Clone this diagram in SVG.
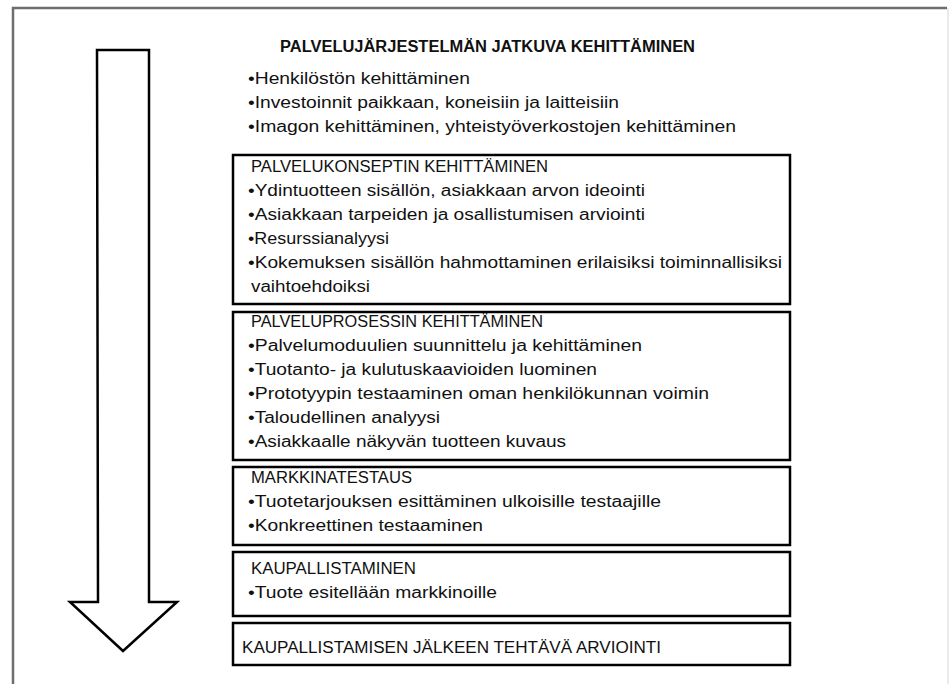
<svg xmlns="http://www.w3.org/2000/svg" width="949" height="684" viewBox="0 0 949 684">
<style>
.t{font-family:"Liberation Sans",Arial,sans-serif;font-size:16px;fill:#111}
.b{font-weight:bold}
.box{fill:#fff;stroke:#000;stroke-width:2.5}
</style>
<rect x="0" y="0" width="949" height="684" fill="#fff"/>
<g id="frame">
<path d="M13,684 V8 H947" fill="none" stroke="#6e6e6e" stroke-width="2.5"/>
<path d="M948,8 V684" fill="none" stroke="#e4e4e4" stroke-width="1.5"/>
</g>
<g id="arrow">
<polygon points="97,50 149,50 149,602 177,602 123,651 70,602 98,602" fill="#fff" stroke="#000" stroke-width="2.5" stroke-linejoin="miter"/>
</g>
<g id="header">
<text class="t b" x="280" y="52" textLength="415" lengthAdjust="spacingAndGlyphs">PALVELUJÄRJESTELMÄN JATKUVA KEHITTÄMINEN</text>
<text class="t" x="248" y="84" textLength="222" lengthAdjust="spacingAndGlyphs">•Henkilöstön kehittäminen</text>
<text class="t" x="248" y="108" textLength="371" lengthAdjust="spacingAndGlyphs">•Investoinnit paikkaan, koneisiin ja laitteisiin</text>
<text class="t" x="248" y="132" textLength="488" lengthAdjust="spacingAndGlyphs">•Imagon kehittäminen, yhteistyöverkostojen kehittäminen</text>
</g>
<g id="box1">
<rect class="box" x="233" y="155" width="557" height="149"/>
<text class="t" x="251" y="172" textLength="297" lengthAdjust="spacingAndGlyphs">PALVELUKONSEPTIN KEHITTÄMINEN</text>
<text class="t" x="248" y="196" textLength="397" lengthAdjust="spacingAndGlyphs">•Ydintuotteen sisällön, asiakkaan arvon ideointi</text>
<text class="t" x="248" y="220" textLength="397" lengthAdjust="spacingAndGlyphs">•Asiakkaan tarpeiden ja osallistumisen arviointi</text>
<text class="t" x="248" y="244" textLength="141" lengthAdjust="spacingAndGlyphs">•Resurssianalyysi</text>
<text class="t" x="248" y="268" textLength="534" lengthAdjust="spacingAndGlyphs">•Kokemuksen sisällön hahmottaminen erilaisiksi toiminnallisiksi</text>
<text class="t" x="251" y="292" textLength="119" lengthAdjust="spacingAndGlyphs">vaihtoehdoiksi</text>
</g>
<g id="box2">
<rect class="box" x="233" y="312" width="557" height="148"/>
<text class="t" x="251" y="327" textLength="292" lengthAdjust="spacingAndGlyphs">PALVELUPROSESSIN KEHITTÄMINEN</text>
<text class="t" x="248" y="351" textLength="394" lengthAdjust="spacingAndGlyphs">•Palvelumoduulien suunnittelu ja kehittäminen</text>
<text class="t" x="248" y="375" textLength="349" lengthAdjust="spacingAndGlyphs">•Tuotanto- ja kulutuskaavioiden luominen</text>
<text class="t" x="248" y="399" textLength="461" lengthAdjust="spacingAndGlyphs">•Prototyypin testaaminen oman henkilökunnan voimin</text>
<text class="t" x="248" y="423" textLength="192" lengthAdjust="spacingAndGlyphs">•Taloudellinen analyysi</text>
<text class="t" x="248" y="447" textLength="318" lengthAdjust="spacingAndGlyphs">•Asiakkaalle näkyvän tuotteen kuvaus</text>
</g>
<g id="box3">
<rect class="box" x="233" y="467" width="557" height="78"/>
<text class="t" x="251" y="483" textLength="161" lengthAdjust="spacingAndGlyphs">MARKKINATESTAUS</text>
<text class="t" x="248" y="507" textLength="413" lengthAdjust="spacingAndGlyphs">•Tuotetarjouksen esittäminen ulkoisille testaajille</text>
<text class="t" x="248" y="531" textLength="235" lengthAdjust="spacingAndGlyphs">•Konkreettinen testaaminen</text>
</g>
<g id="box4">
<rect class="box" x="233" y="552" width="557" height="64"/>
<text class="t" x="251" y="574" textLength="165" lengthAdjust="spacingAndGlyphs">KAUPALLISTAMINEN</text>
<text class="t" x="248" y="598" textLength="249" lengthAdjust="spacingAndGlyphs">•Tuote esitellään markkinoille</text>
</g>
<g id="box5">
<rect class="box" x="233" y="623" width="557" height="42"/>
<text class="t" x="242" y="653" textLength="419" lengthAdjust="spacingAndGlyphs">KAUPALLISTAMISEN JÄLKEEN TEHTÄVÄ ARVIOINTI</text>
</g>
<g id="connectors"></g>
</svg>
